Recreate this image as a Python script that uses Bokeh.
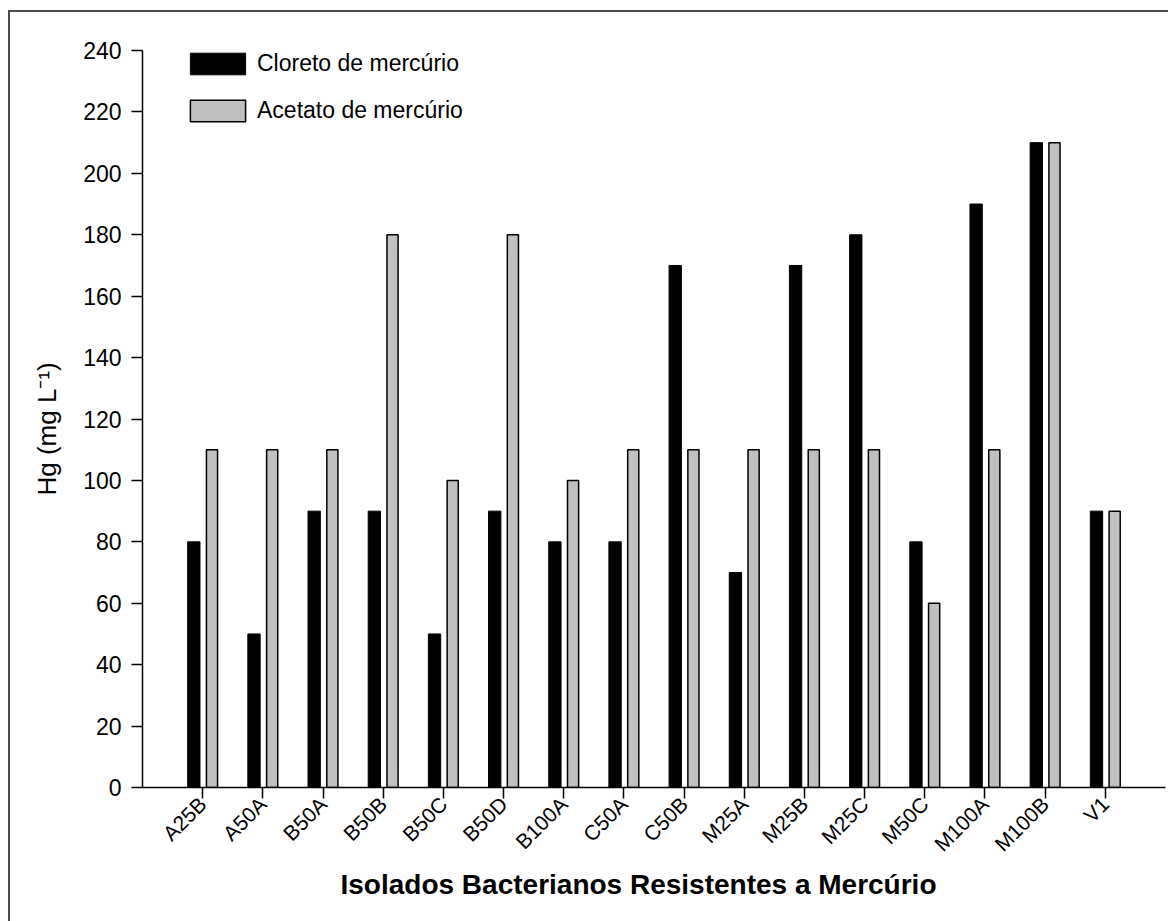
import math

from bokeh.embed import file_html
from bokeh.layouts import column
from bokeh.models import (ColumnDataSource, FactorRange, FixedTicker, Legend, LegendItem,
                          Range1d, Title)
from bokeh.plotting import figure
from bokeh.resources import INLINE
from bokeh.transform import dodge

# Mercury tolerance (mg/L) of each bacterial isolate for two mercury salts
isolados = ["A25B", "A50A", "B50A", "B50B", "B50C", "B50D", "B100A", "C50A",
            "C50B", "M25A", "M25B", "M25C", "M50C", "M100A", "M100B", "V1"]
cloreto = [80, 50, 90, 90, 50, 90, 80, 80, 170, 70, 170, 180, 80, 190, 210, 90]
acetato = [110, 110, 110, 180, 100, 180, 100, 110, 110, 110, 110, 110, 60, 110, 210, 90]
y_ticks = list(range(0, 241, 20))
Y_MAX = 240

src = ColumnDataSource(dict(isolado=isolados, cloreto=cloreto, acetato=acetato))

FONT = "Liberation Sans"
PAGE_W, PAGE_H = 1168, 921
OFF_X, OFF_Y = 10, 12          # figure origin on the page (inside the page border)
W, H = PAGE_W - OFF_X, PAGE_H - OFF_Y
# frame edges in figure pixels; the value axis tops out (at Y_MAX) 36 px below the frame top
FL, FT, FR, FB = 132, 2, 1155, 775
AXIS_TOP = 38
y_end = Y_MAX * (FB - FT) / (FB - AXIS_TOP)

p = figure(
    width=W, height=H,
    x_range=FactorRange(factors=isolados, range_padding=1 / 16, range_padding_units="percent"),
    y_range=Range1d(0, y_end),
    output_backend="svg", toolbar_location=None,
    min_border_left=FL, min_border_right=W - FR,
    min_border_top=FT, min_border_bottom=H - FB,
)
p.outline_line_color = None
p.xgrid.visible = False
p.ygrid.visible = False
p.background_fill_color = "white"
p.border_fill_color = "white"

for ax in (p.xaxis[0], p.yaxis[0]):
    ax.axis_line_color = "black"
    ax.axis_line_width = 1.5
    ax.major_tick_line_color = "black"
    ax.major_tick_line_width = 1.5
    ax.major_tick_out = 11
    ax.major_tick_in = 0
    ax.minor_tick_line_color = None
    ax.major_label_text_font = FONT
    ax.major_label_text_color = "black"

p.yaxis.ticker = FixedTicker(ticks=y_ticks)
p.yaxis.bounds = (0, Y_MAX)
p.yaxis.major_label_text_font_size = "23px"
p.yaxis.major_label_standoff = 10

p.xaxis.major_label_orientation = math.pi / 4
p.xaxis.major_label_text_font_size = "21px"
p.xaxis.major_label_standoff = 2

black = p.vbar(x=dodge("isolado", -0.147, range=p.x_range), top="cloreto", width=0.205,
               source=src, fill_color="black", line_color="black", line_width=1)
grey = p.vbar(x=dodge("isolado", 0.155, range=p.x_range), top="acetato", width=0.185,
              source=src, fill_color="#c0c0c0", line_color="black", line_width=1.5)

# legend swatches are drawn inset by 10% of the glyph box on every side
legend = Legend(
    items=[LegendItem(label="Cloreto de mercúrio", renderers=[black]),
           LegendItem(label="Acetato de mercúrio", renderers=[grey])],
    location=(41, 663), glyph_width=69, glyph_height=27, label_height=27,
    label_standoff=5, spacing=20, padding=0, margin=0,
    border_line_color=None, background_fill_alpha=0,
    label_text_font=FONT, label_text_font_size="23px", label_text_color="black",
)
p.add_layout(legend)

# axis titles as side-panel titles so they can be placed along the axes
p.add_layout(Title(text="Hg (mg L⁻¹)", align="left", offset=292, standoff=37,
                   text_font=FONT, text_font_size="26px", text_font_style="normal",
                   text_color="black"), "left")
p.add_layout(Title(text="Isolados Bacterianos Resistentes a Mercúrio", align="left",
                   offset=198, standoff=0, text_font=FONT, text_font_size="28px",
                   text_font_style="bold", text_color="black"), "below")

# page with a thin rule along its top and left edges
page = column(p, styles={"margin-left": "8px", "margin-top": "10px",
                         "border-left": "2px solid #4a4a4a",
                         "border-top": "2px solid #4a4a4a"})

open("out.html", "w").write(file_html(page, INLINE))
